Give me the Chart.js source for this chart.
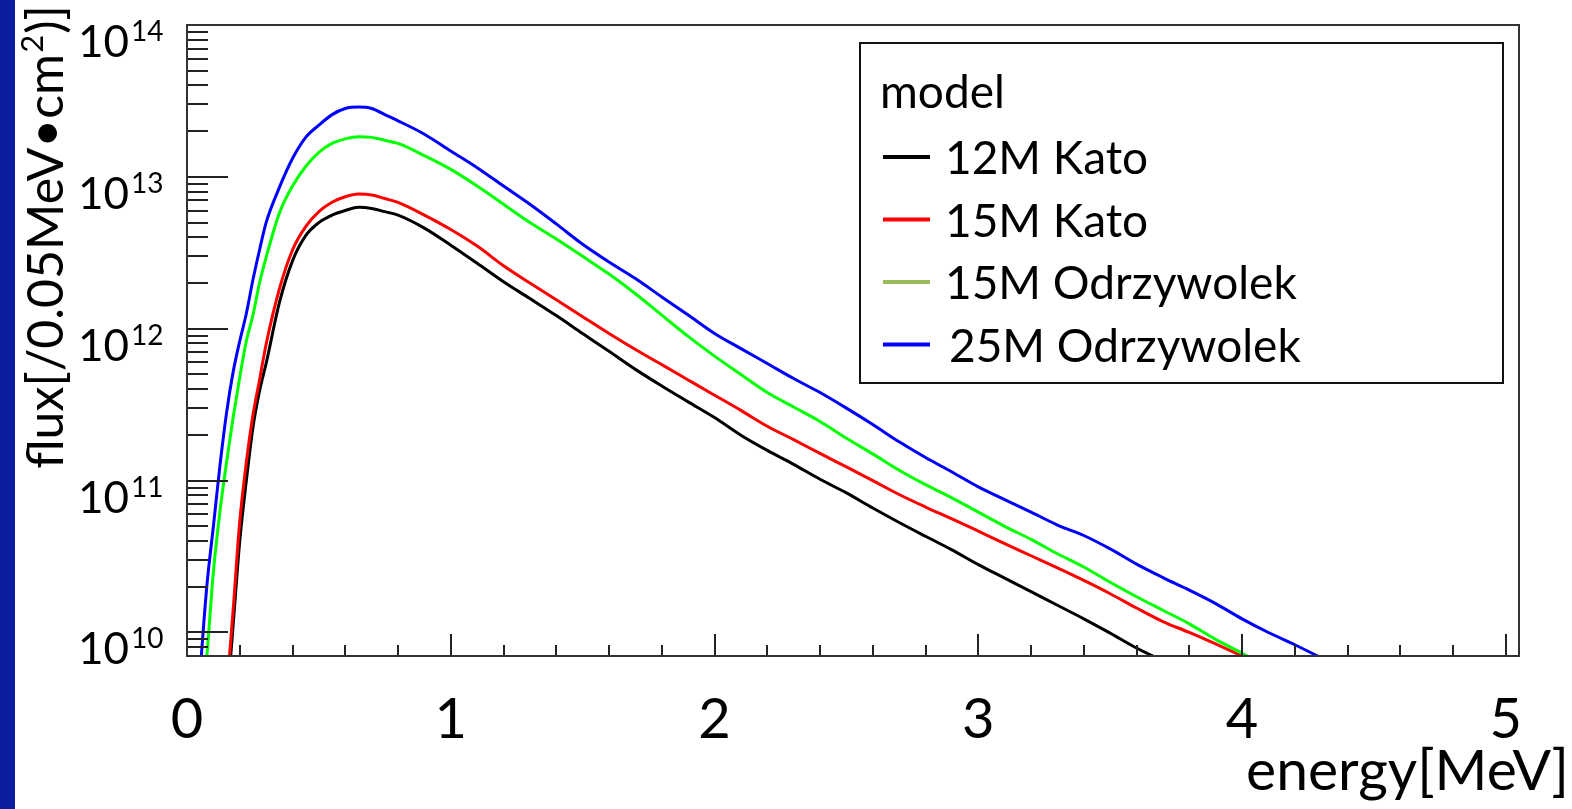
<!DOCTYPE html>
<html>
<head>
<meta charset="utf-8">
<script src="https://cdn.jsdelivr.net/npm/chart.js@4.4.1/dist/chart.umd.min.js"></script>
<style>
html,body{margin:0;padding:0;background:#fff;overflow:hidden;}
#wrap{position:relative;width:1572px;height:809px;}
canvas{display:block;}
</style>
</head>
<body>
<div id="wrap"><canvas id="c" width="1572" height="809"></canvas></div>
<script>
// ---- data ----
const energies = [0.025,0.05,0.075,0.1,0.125,0.15,0.175,0.2,0.225,0.25,0.275,0.3,0.35,0.4,0.45,0.5,0.55,0.6,0.65,0.7,0.75,0.8,
  0.9,1.0,1.1,1.2,1.3,1.4,1.5,1.6,1.7,1.8,1.9,2.0,2.1,2.2,2.3,2.4,2.5,2.6,2.7,2.8,2.9,3.0,3.1,3.2,3.3,3.4,3.5,3.6,3.7,3.8,3.9,4.0,4.1,4.2,4.3,4.4];

const flux12MKato = [null,null,null,null,null,3.2e9,1.12e10,4.0e10,1.0e11,2.24e11,3.9e11,5.9e11,1.48e12,2.8e12,4.1e12,5.0e12,5.6e12,6.0e12,6.3e12,6.2e12,5.9e12,5.6e12,
  4.6e12,3.55e12,2.7e12,2.04e12,1.58e12,1.22e12,9.3e11,7.1e11,5.4e11,4.2e11,3.3e11,
  2.6e11,1.99e11,1.58e11,1.28e11,1.02e11,8.3e10,6.6e10,5.3e10,4.3e10,3.5e10,
  2.8e10,2.28e10,1.86e10,1.51e10,1.23e10,9.9e9,7.9e9,6.5e9,null,null,
  null,null,null,null,null];

const flux15MKato = [null,null,null,null,null,4.0e9,1.41e10,5.4e10,1.32e11,2.7e11,4.6e11,7.9e11,1.82e12,3.3e12,4.7e12,5.9e12,6.8e12,7.4e12,7.7e12,7.6e12,7.2e12,6.8e12,
  5.6e12,4.5e12,3.5e12,2.6e12,2.0e12,1.55e12,1.2e12,9.3e11,7.3e11,5.8e11,4.6e11,
  3.65e11,2.9e11,2.28e11,1.86e11,1.51e11,1.23e11,1.0e11,8.1e10,6.7e10,5.6e10,
  4.65e10,3.85e10,3.2e10,2.66e10,2.2e10,1.8e10,1.45e10,1.18e10,1.0e10,8.4e9,
  7.0e9,5.8e9,null,null,null];

const flux15MOdrzywolek = [null,2.5e9,6.9e9,2.5e10,6.3e10,1.32e11,2.6e11,4.8e11,8.3e11,1.23e12,2.0e12,2.95e12,5.75e12,8.7e12,1.17e13,1.45e13,1.66e13,1.78e13,1.84e13,1.82e13,1.74e13,1.66e13,
  1.38e13,1.12e13,8.7e12,6.6e12,5.0e12,3.9e12,3.0e12,2.29e12,1.7e12,1.23e12,8.9e11,
  6.6e11,5.0e11,3.8e11,3.05e11,2.45e11,1.9e11,1.5e11,1.17e11,9.4e10,7.7e10,
  6.2e10,5.0e10,4.1e10,3.3e10,2.7e10,2.14e10,1.72e10,1.4e10,1.14e10,9.0e9,
  7.3e9,5.9e9,null,null,null];

const flux25MOdrzywolek = [null,5.6e9,2.0e10,5.0e10,1.26e11,2.8e11,5.2e11,8.3e11,1.26e12,2.1e12,3.3e12,5.0e12,8.5e12,1.32e13,1.82e13,2.19e13,2.57e13,2.82e13,2.88e13,2.82e13,2.57e13,2.34e13,
  1.91e13,1.48e13,1.15e13,8.7e12,6.6e12,4.9e12,3.6e12,2.75e12,2.14e12,1.62e12,1.23e12,
  9.3e11,7.4e11,5.9e11,4.7e11,3.8e11,3.0e11,2.34e11,1.8e11,1.42e11,1.14e11,
  9.1e10,7.5e10,6.2e10,5.1e10,4.35e10,3.55e10,2.82e10,2.3e10,1.9e10,1.55e10,
  1.23e10,1.0e10,8.3e9,6.8e9,5.5e9];

const seriesLabels = ['12M Kato','15M Kato','15M Odrzywolek','25M Odrzywolek'];
const legendTitle = 'model';
const xTickValues = [0,1,2,3,4,5];
const xTickLabels = ['0','1','2','3','4','5'];
const yDecadeValues = [1e10,1e11,1e12,1e13,1e14];
const yTickBase = '10';
const yTickExponents = ['10','11','12','13','14'];
const xTitle = 'energy[MeV]';
const yTitleMain = 'flux[/0.05MeV\u2022cm';
const yTitleSup = '2';
const yTitleEnd = ')]';

// ---- styles ----
const FONT = 'Lato, "Open Sans", "DejaVu Sans", sans-serif';
const lineColors = ['#000000','#ff0000','#00ff00','#0000ff'];
const legendColors = ['#000000','#ff0000','#9bbb59','#0000ff'];
const STRIP = '#0a1e9f';

function pts(arr){ return energies.map((e,i)=>({x:e,y:arr[i]})); }

const seriesData = [flux12MKato, flux15MKato, flux15MOdrzywolek, flux25MOdrzywolek];

const decor = {
  id:'decor',
  beforeDraw(chart){
    const ctx = chart.ctx;
    ctx.save();
    ctx.fillStyle = '#ffffff';
    ctx.fillRect(0,0,chart.width,chart.height);
    ctx.fillStyle = STRIP;
    ctx.fillRect(0,0,15,chart.height);
    ctx.restore();
  },
  afterDraw(chart){
    const ctx = chart.ctx;
    const a = chart.chartArea;
    const xs = chart.scales.x, ys = chart.scales.y;
    ctx.save();
    // ticks
    ctx.strokeStyle = '#222';
    ctx.lineWidth = 2;
    ctx.beginPath();
    for (let v = 0; v <= xs.max + 1e-9; v += 0.2) {
      const r = Math.round(v*5)/5;
      const px = Math.round(xs.getPixelForValue(r));
      const isMajor = Math.abs(r - Math.round(r)) < 1e-6;
      const len = isMajor ? 22 : 11;
      ctx.moveTo(px, a.bottom); ctx.lineTo(px, a.bottom - len);
    }
    for (let e = 9; e <= 14; e++) {
      for (let m = 1; m <= 9; m++) {
        const v = m * Math.pow(10, e);
        if (v < ys.min*0.999 || v > ys.max*1.001) continue;
        const py = Math.round(ys.getPixelForValue(v));
        const len = m === 1 ? 41 : 21;
        ctx.moveTo(a.left, py); ctx.lineTo(a.left + len, py);
      }
    }
    ctx.stroke();
    // frame
    ctx.strokeStyle = '#333';
    ctx.lineWidth = 2;
    ctx.strokeRect(a.left, a.top, a.right - a.left, a.bottom - a.top);

    ctx.fillStyle = '#000';
    // x tick labels
    ctx.font = '56px ' + FONT;
    ctx.textAlign = 'center';
    ctx.textBaseline = 'alphabetic';
    xTickValues.forEach((v,i)=>{
      ctx.fillText(xTickLabels[i], xs.getPixelForValue(v), 738);
    });
    // y tick labels
    yDecadeValues.forEach((v,i)=>{
      const py = ys.getPixelForValue(v);
      ctx.font = '44px ' + FONT;
      ctx.textAlign = 'right';
      ctx.fillText(yTickBase, 129, py + 32);
      ctx.font = '28px ' + FONT;
      ctx.textAlign = 'left';
      ctx.fillText(yTickExponents[i], 131, py + 16);
    });
    // x title
    ctx.font = '57px ' + FONT;
    ctx.textAlign = 'right';
    ctx.fillText(xTitle, 1569, 790);
    // y title (rotated)
    ctx.save();
    ctx.translate(63, 237);
    ctx.rotate(-Math.PI/2);
    ctx.font = '50px ' + FONT;
    const w1 = ctx.measureText(yTitleMain).width;
    const w3 = ctx.measureText(yTitleEnd).width;
    ctx.font = '31px ' + FONT;
    const w2 = ctx.measureText(yTitleSup).width;
    const total = w1 + w2 + w3 + 2;
    let x0 = -total/2;
    ctx.textAlign = 'left';
    ctx.font = '50px ' + FONT;
    ctx.fillText(yTitleMain, x0, 0);
    ctx.font = '31px ' + FONT;
    ctx.fillText(yTitleSup, x0 + w1 + 1, -20);
    ctx.font = '50px ' + FONT;
    ctx.fillText(yTitleEnd, x0 + w1 + w2 + 2, 0);
    ctx.restore();

    // legend
    const L = {x:860, y:43, w:643, h:340};
    ctx.fillStyle = '#fff';
    ctx.fillRect(L.x, L.y, L.w, L.h);
    ctx.strokeStyle = '#111';
    ctx.lineWidth = 2;
    ctx.strokeRect(L.x, L.y, L.w, L.h);
    ctx.fillStyle = '#000';
    ctx.textAlign = 'left';
    ctx.font = '46px ' + FONT;
    ctx.fillText(legendTitle, 880, 108);
    chart.data.datasets.forEach((ds,i)=>{
      const cy = 157 + i*62.5;
      ctx.strokeStyle = ds.legendColor;
      ctx.lineWidth = 4;
      ctx.beginPath();
      ctx.moveTo(883, cy); ctx.lineTo(930, cy);
      ctx.stroke();
      ctx.fillStyle = '#000';
      ctx.fillText(ds.label, i === 3 ? 949 : 945, cy + 17);
    });
    ctx.restore();
  }
};

function build(){
  const ctx = document.getElementById('c').getContext('2d');
  new Chart(ctx, {
    type: 'line',
    data: {
      datasets: seriesData.map((arr,i)=>({
        label: seriesLabels[i],
        data: pts(arr),
        borderColor: lineColors[i],
        legendColor: legendColors[i],
        borderWidth: 3,
        pointRadius: 0,
        cubicInterpolationMode: 'monotone',
        fill: false,
        spanGaps: false,
        clip: 0,
        order: 4 - i
      }))
    },
    options: {
      responsive: false,
      animation: false,
      devicePixelRatio: 1,
      layout: { padding: { left: 187, top: 25, right: 53, bottom: 153 } },
      plugins: { legend: { display: false }, tooltip: { enabled: false } },
      scales: {
        x: { type: 'linear', min: 0, max: 5.05, display: false },
        y: { type: 'logarithmic', min: 7e9, max: 1e14, display: false }
      }
    },
    plugins: [decor]
  });
}

if (document.fonts && document.fonts.load) {
  Promise.all([document.fonts.load('46px Lato')]).then(build, build);
} else { build(); }
</script>
</body>
</html>
